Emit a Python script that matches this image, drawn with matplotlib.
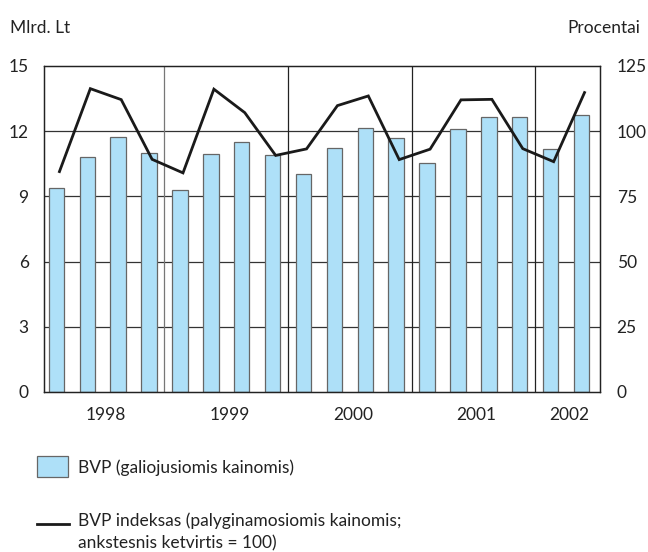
import matplotlib.pyplot as plt
import numpy as np

# GDP by quarter, 1998 Q1 - 2002 Q2
years = ["1998", "1999", "2000", "2001", "2002"]
quarters_per_year = [4, 4, 4, 4, 2]
bvp = [9.40, 10.80, 11.75, 11.01,
       9.28, 10.94, 11.49, 10.91,
       10.05, 11.24, 12.16, 11.67,
       10.55, 12.09, 12.64, 12.67,
       11.17, 12.75]
bvp_index = [84.5, 116.3, 112.1, 89.2,
             84.0, 116.1, 107.1, 90.7,
             93.2, 109.8, 113.5, 89.1,
             93.1, 112.0, 112.2, 93.3,
             88.3, 114.8]

plt.rcParams['font.family'] = ['Lato', 'DejaVu Sans']

fig = plt.figure(figsize=(6.48, 5.52), dpi=100)
ax = fig.add_axes([0.0679, 0.2899, 0.858, 0.5906])
ax2 = ax.twinx()

x = np.arange(len(bvp))
ax.set_zorder(1)
ax2.set_zorder(2)
ax2.patch.set_visible(False)

# grid and year separators behind the bars
for v in [3, 6, 9, 12]:
    ax.axhline(v, color='#333333', lw=0.9, zorder=0)
edges = np.cumsum(quarters_per_year)[:-1]
for i, e in enumerate(edges):
    ax.axvline(e - 0.6, color='#777777' if i == 0 else '#222222', lw=0.9, zorder=0)

ax.bar(x - 0.1, bvp, width=0.5, color='#aee0f8', edgecolor='#666666',
       linewidth=0.9, zorder=2)
ax2.plot(x, bvp_index, color='#1a1a1a', lw=2.0, solid_joinstyle='miter')

ax.set_xlim(-0.5, len(bvp) - 0.5)
ax.set_ylim(0, 15)
ax2.set_ylim(0, 125)
ax.set_yticks([0, 3, 6, 9, 12, 15])
ax2.set_yticks([0, 25, 50, 75, 100, 125])

starts = np.concatenate([[0], np.cumsum(quarters_per_year)[:-1]])
centers = starts + np.array(quarters_per_year) / 2 - 0.5
ax.set_xticks(centers)
ax.set_xticklabels(years)

for a in (ax, ax2):
    a.tick_params(length=0, labelsize=12.5, colors='#222222')
    for s in a.spines.values():
        s.set_color('#222222')
        s.set_linewidth(0.9)
ax.tick_params(axis='y', pad=11)
ax2.tick_params(axis='y', pad=12)
ax.tick_params(axis='x', pad=11)

fig.text(10 / 648, 1 - 28 / 552, "Mlrd. Lt", fontsize=12.5, va='center',
         ha='left', color='#222222')
fig.text(640 / 648, 1 - 28 / 552, "Procentai", fontsize=12.5, va='center',
         ha='right', color='#222222')

# legend drawn by hand
fig.patches.append(plt.Rectangle((37 / 648, 1 - 477 / 552), 31 / 648, 21 / 552,
                                 transform=fig.transFigure, facecolor='#aee0f8',
                                 edgecolor='#666666', linewidth=0.9))
fig.text(78 / 648, 1 - 468 / 552, "BVP (galiojusiomis kainomis)",
         fontsize=12.5, va='center', ha='left', color='#222222')
fig.add_artist(plt.Line2D([37 / 648, 69 / 648], [1 - 524 / 552, 1 - 524 / 552],
                          transform=fig.transFigure, color='#1a1a1a', lw=2.0))
fig.text(78 / 648, 1 - 521 / 552, "BVP indeksas (palyginamosiomis kainomis;",
         fontsize=12.5, va='center', ha='left', color='#222222')
fig.text(78 / 648, 1 - 543 / 552, "ankstesnis ketvirtis = 100)",
         fontsize=12.5, va='center', ha='left', color='#222222')

fig.savefig("out.png", dpi=100)
